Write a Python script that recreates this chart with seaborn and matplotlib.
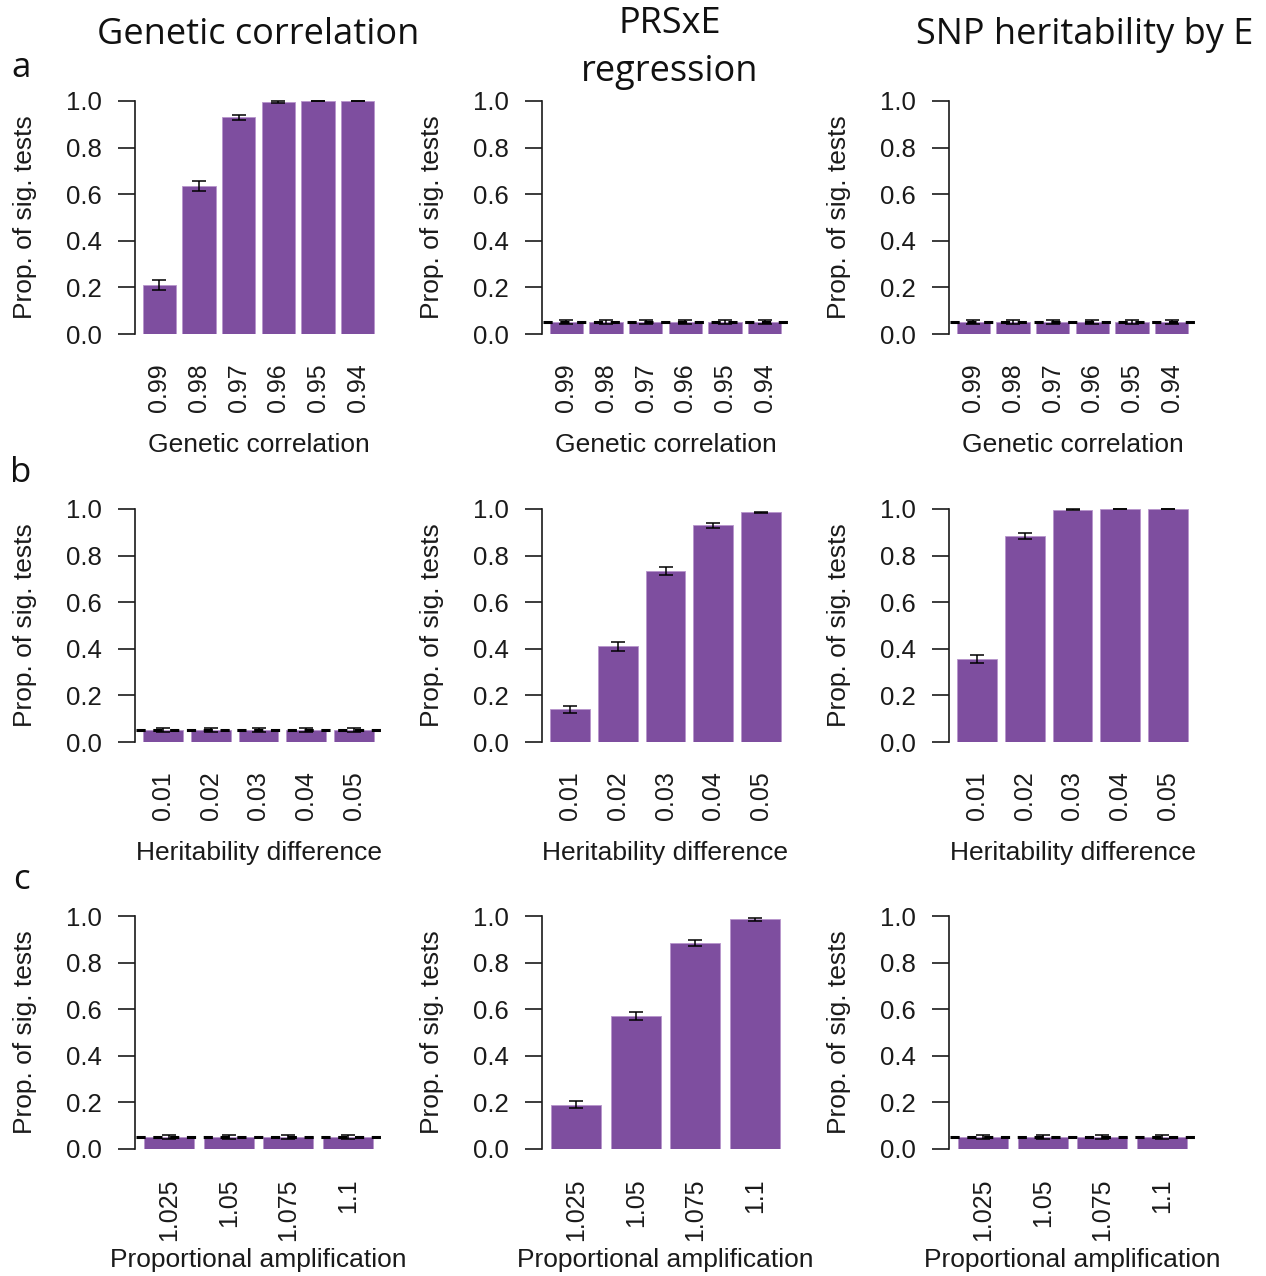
import matplotlib
matplotlib.use("Agg")
import matplotlib.pyplot as plt
import seaborn as sns
import pandas as pd
import numpy as np

sns.set_theme(style="white")
plt.rcParams["font.family"] = ["Liberation Sans", "DejaVu Sans"]

# Data
gc_levels = ["0.99", "0.98", "0.97", "0.96", "0.95", "0.94"]
h2_levels = ["0.01", "0.02", "0.03", "0.04", "0.05"]
amp_levels = ["1.025", "1.05", "1.075", "1.1"]

# row a: genetic correlation scenario
a_gencor = [0.21, 0.635, 0.93, 0.995, 1.0, 1.0]
a_gencor_err = [0.02, 0.02, 0.01, 0.003, 0.0, 0.0]
a_prsxe = [0.05, 0.05, 0.05, 0.05, 0.05, 0.05]
a_prsxe_err = [0.008, 0.008, 0.008, 0.008, 0.008, 0.008]
a_snph2 = [0.05, 0.05, 0.05, 0.05, 0.05, 0.05]
a_snph2_err = [0.008, 0.008, 0.008, 0.008, 0.008, 0.008]

# row b: heritability difference scenario
b_gencor = [0.05, 0.05, 0.05, 0.05, 0.05]
b_gencor_err = [0.008, 0.008, 0.008, 0.008, 0.008]
b_prsxe = [0.14, 0.41, 0.735, 0.93, 0.985]
b_prsxe_err = [0.015, 0.018, 0.017, 0.01, 0.004]
b_snph2 = [0.355, 0.885, 0.997, 1.0, 1.0]
b_snph2_err = [0.017, 0.014, 0.003, 0.0, 0.0]

# row c: proportional amplification scenario
c_gencor = [0.05, 0.05, 0.05, 0.05]
c_gencor_err = [0.008, 0.008, 0.008, 0.008]
c_prsxe = [0.19, 0.57, 0.885, 0.985]
c_prsxe_err = [0.016, 0.018, 0.012, 0.005]
c_snph2 = [0.05, 0.05, 0.05, 0.05]
c_snph2_err = [0.008, 0.008, 0.008, 0.008]

col_titles = ["Genetic correlation", "PRSxE\nregression", "SNP heritability by E"]
row_letters = ["a", "b", "c"]
row_xlabels = ["Genetic correlation", "Heritability difference", "Proportional amplification"]
alpha_level = 0.05

rows = [
    (gc_levels, [(a_gencor, a_gencor_err), (a_prsxe, a_prsxe_err), (a_snph2, a_snph2_err)]),
    (h2_levels, [(b_gencor, b_gencor_err), (b_prsxe, b_prsxe_err), (b_snph2, b_snph2_err)]),
    (amp_levels, [(c_gencor, c_gencor_err), (c_prsxe, c_prsxe_err), (c_snph2, c_snph2_err)]),
]
# panels where the effect is real get no 0.05 reference line
no_line = {(0, 0), (1, 1), (1, 2), (2, 1)}

W, H = 1266, 1276
fig = plt.figure(figsize=(W / 100, H / 100), dpi=100)

purple = "#7E4E9F"
ink = "#1a1a1a"
col_left_px = [139.5, 546.5, 953.5]
row_top_px = [101, 509, 916]
ax_w_px, ax_h_px = 238, 233

for r, (levels, panels) in enumerate(rows):
    for c, (vals, errs) in enumerate(panels):
        left = col_left_px[c] / W
        bottom = 1 - (row_top_px[r] + ax_h_px) / H
        ax = fig.add_axes([left, bottom, ax_w_px / W, ax_h_px / H])
        df = pd.DataFrame({"level": levels, "prop": vals, "err": errs})
        sns.barplot(data=df, x="level", y="prop", order=levels, color=purple,
                    width=0.84, errorbar=None, saturation=1, ax=ax,
                    edgecolor="#B795CC", linewidth=0.6)
        ax.errorbar(np.arange(len(levels)), df["prop"], yerr=df["err"], fmt="none",
                    ecolor="black", elinewidth=1.1, capsize=5, capthick=1.1,
                    clip_on=False, zorder=5)
        if (r, c) not in no_line:
            ax.axhline(alpha_level, xmin=-0.015, xmax=1.025, color="black", lw=2.2,
                       ls=(0, (3, 2.5)), clip_on=False, zorder=6)
        ax.set_xlim(-0.5, len(levels) - 0.5)
        ax.set_ylim(0, 1)
        ax.set_yticks([0, 0.2, 0.4, 0.6, 0.8, 1.0])
        ax.set_yticklabels(["0.0", "0.2", "0.4", "0.6", "0.8", "1.0"])
        for s in ["top", "right", "bottom"]:
            ax.spines[s].set_visible(False)
        ax.spines["left"].set_position(("outward", 3.3))
        ax.spines["left"].set_color(ink)
        ax.spines["left"].set_linewidth(1.2)
        ax.tick_params(axis="y", left=True, length=12, width=1.2, color=ink,
                       labelsize=18.5, pad=12, labelcolor=ink)
        ax.tick_params(axis="x", bottom=False, length=0, labelsize=18, pad=21,
                       labelrotation=90, labelcolor=ink)
        ax.set_ylabel("Prop. of sig. tests", fontsize=19, color=ink)
        ax.yaxis.label.set_va("center")
        ax.yaxis.set_label_coords(-114.5 / ax_w_px, 0.5)
        ax.set_xlabel(row_xlabels[r], fontsize=19, color=ink)
        ax.xaxis.label.set_va("center")
        ax.xaxis.set_label_coords(0.5, -111 / ax_h_px)

# column titles and panel letters
title_x = [258, 670, 1085]
title_y = [35, 48, 35]
for c, t in enumerate(col_titles):
    fig.text(title_x[c] / W, 1 - title_y[c] / H, t, ha="center", va="center",
             fontsize=26, color="#111111", family=["Open Sans", "DejaVu Sans"],
             linespacing=1.42)
letter_y = [68, 473, 880]
for r, l in enumerate(row_letters):
    fig.text(21 / W, 1 - letter_y[r] / H, l, ha="center", va="center",
             fontsize=25, color="#111111", family=["Open Sans", "DejaVu Sans"])

plt.savefig("out.png", dpi=100, facecolor="white")
